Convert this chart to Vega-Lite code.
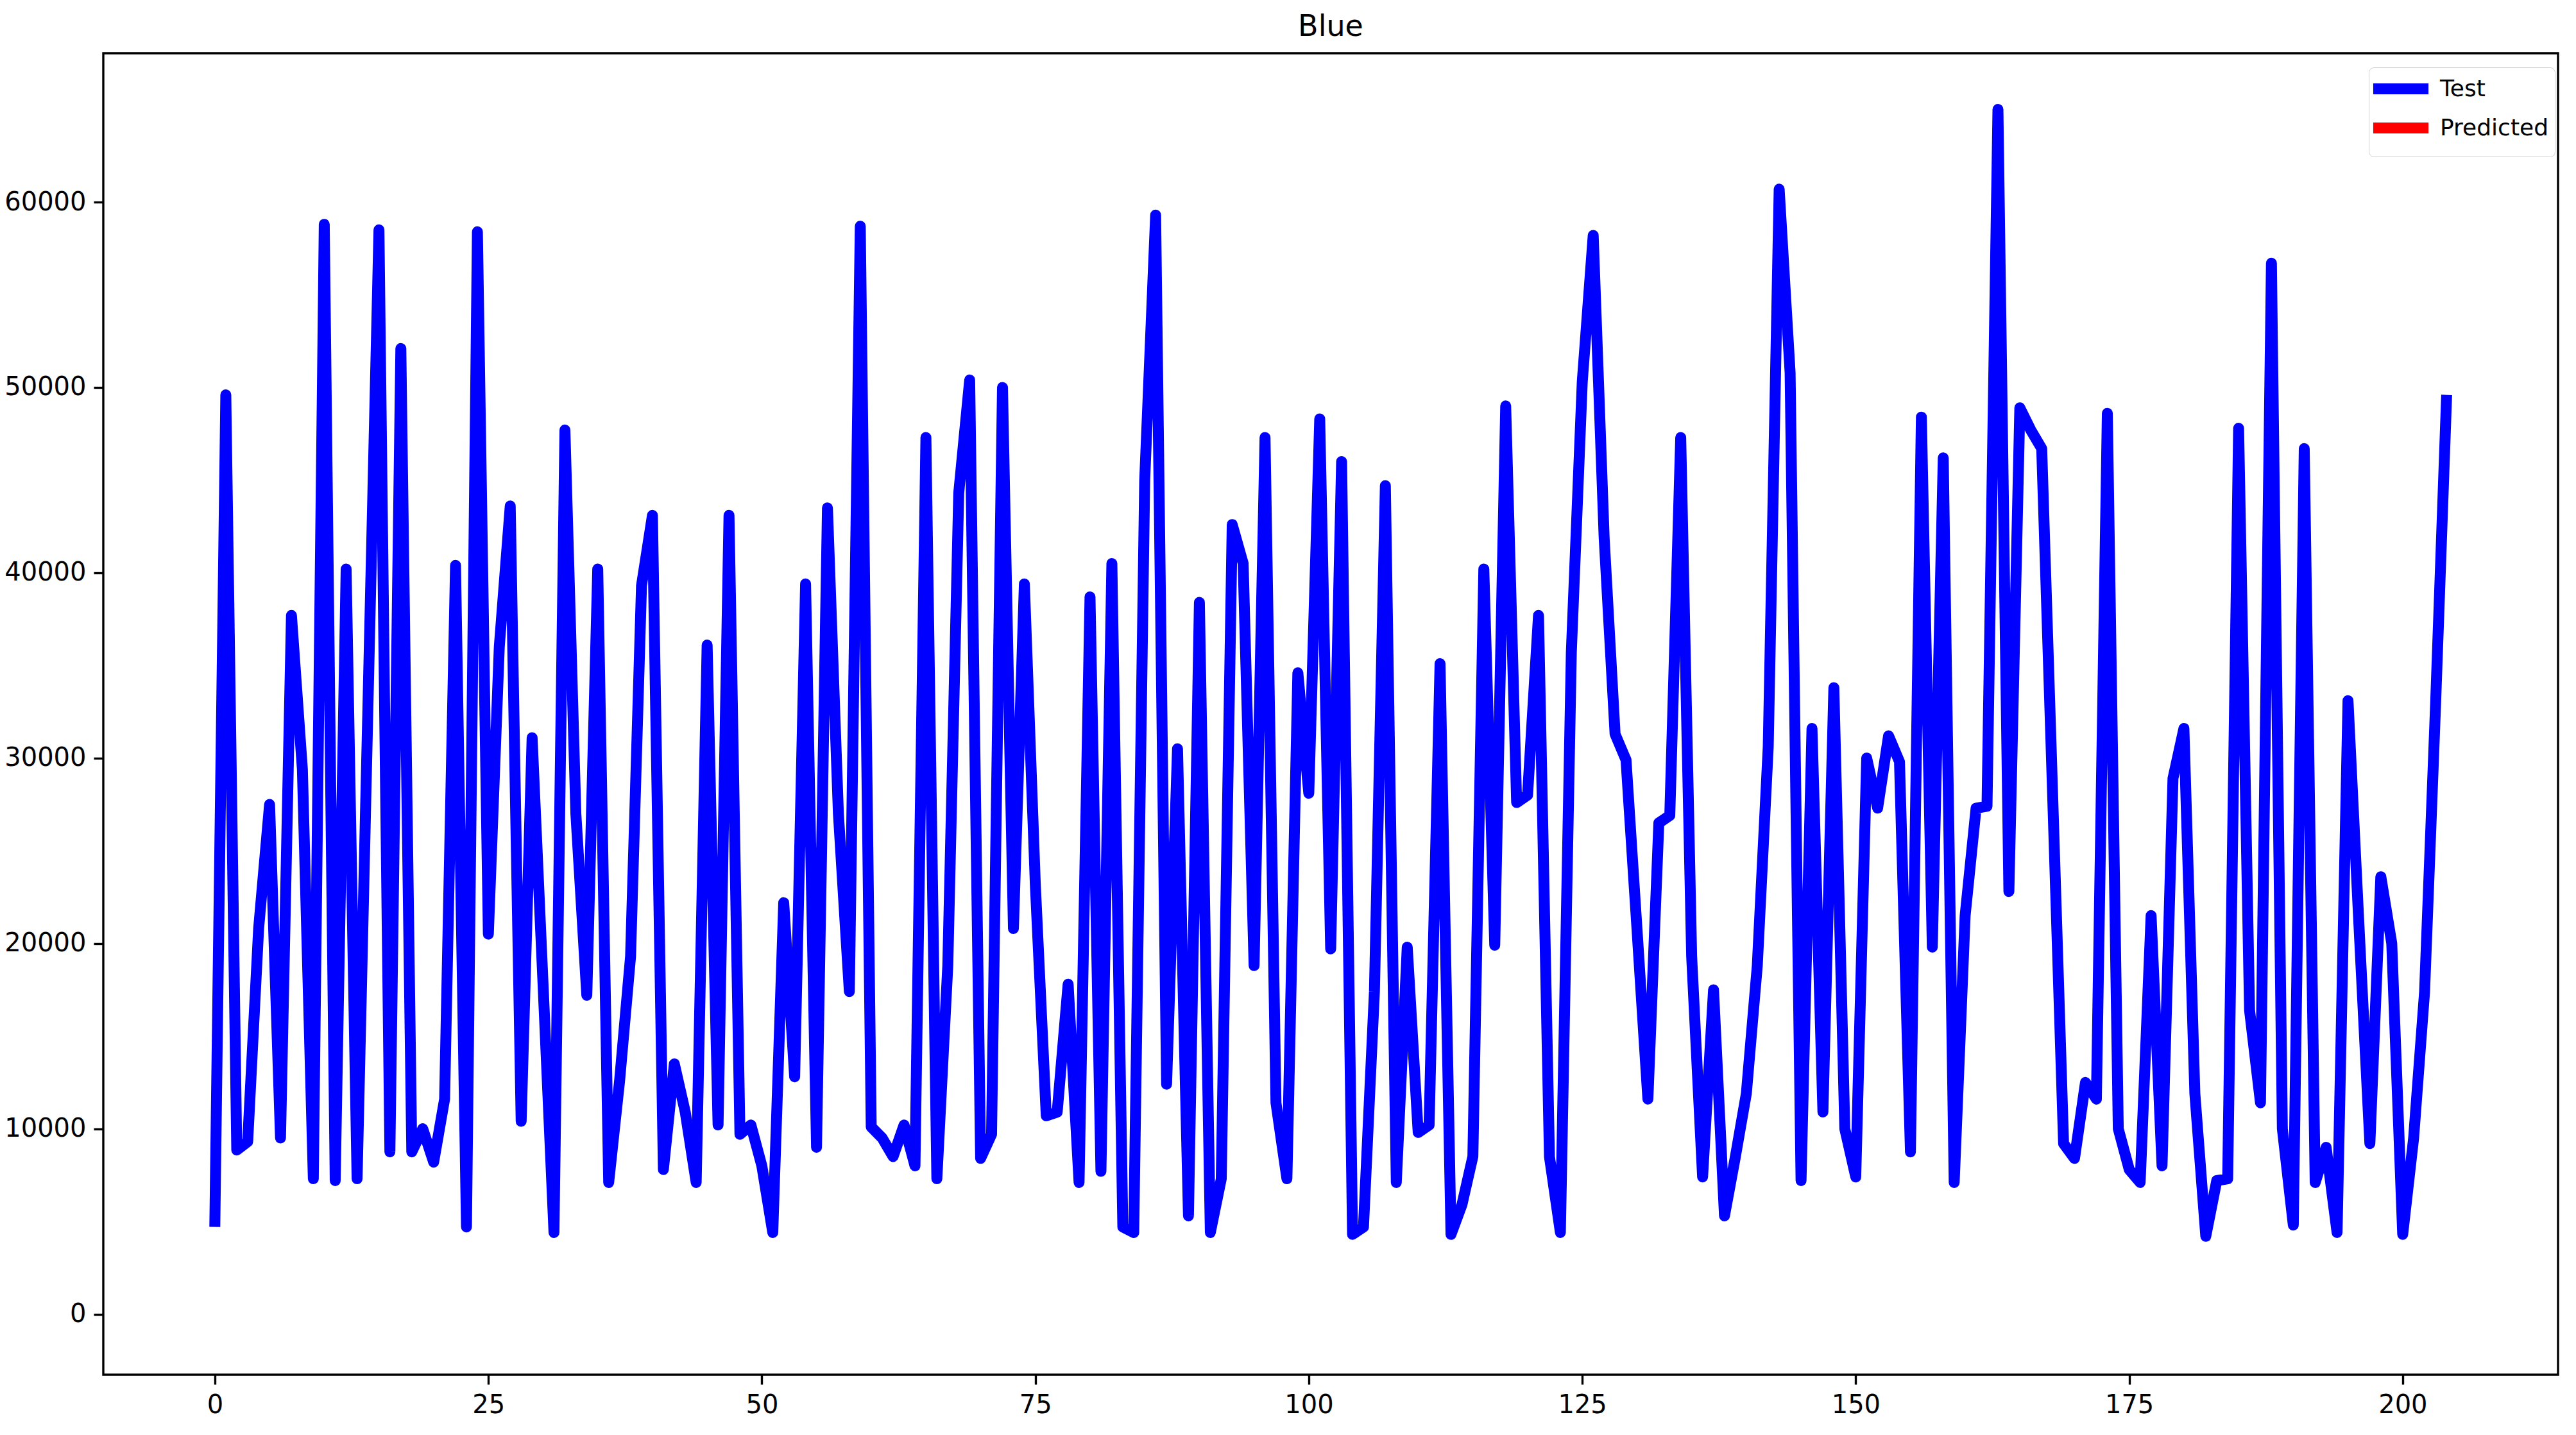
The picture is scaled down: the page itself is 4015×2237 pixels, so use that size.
{
  "$schema": "https://vega.github.io/schema/vega-lite/v6.json",
  "autosize": "none",
  "width": 3826,
  "height": 2060,
  "padding": {"left": 161, "top": 83, "right": 28, "bottom": 94},
  "background": "white",
  "title": {"text": "Blue", "fontSize": 46, "font": "DejaVu Sans", "fontWeight": "normal", "color": "black", "offset": 17, "anchor": "middle"},
  "config": {
    "view": {"stroke": "black", "strokeWidth": 3.4},
    "font": "DejaVu Sans"
  },
  "data": {"values": [
    {"i":0,"v":5000},{"i":1,"v":49600},{"i":2,"v":8850},{"i":3,"v":9300},{"i":4,"v":20800},
    {"i":5,"v":27500},{"i":6,"v":9500},{"i":7,"v":37700},{"i":8,"v":29400},{"i":9,"v":7300},
    {"i":10,"v":58800},{"i":11,"v":7200},{"i":12,"v":40200},{"i":13,"v":7300},{"i":14,"v":33000},
    {"i":15,"v":58500},{"i":16,"v":8750},{"i":17,"v":52100},{"i":18,"v":8750},{"i":19,"v":10000},
    {"i":20,"v":8200},{"i":21,"v":11600},{"i":22,"v":40400},{"i":23,"v":4700},{"i":24,"v":58400},
    {"i":25,"v":20500},{"i":26,"v":36000},{"i":27,"v":43600},{"i":28,"v":10400},{"i":29,"v":31100},
    {"i":30,"v":17800},{"i":31,"v":4400},{"i":32,"v":47700},{"i":33,"v":27000},{"i":34,"v":17200},
    {"i":35,"v":40200},{"i":36,"v":7100},{"i":37,"v":12600},{"i":38,"v":19300},{"i":39,"v":39300},
    {"i":40,"v":43100},{"i":41,"v":7800},{"i":42,"v":13500},{"i":43,"v":10900},{"i":44,"v":7100},
    {"i":45,"v":36100},{"i":46,"v":10200},{"i":47,"v":43100},{"i":48,"v":9700},{"i":49,"v":10200},
    {"i":50,"v":8000},{"i":51,"v":4400},{"i":52,"v":22200},{"i":53,"v":12800},{"i":54,"v":39400},
    {"i":55,"v":9000},{"i":56,"v":43500},{"i":57,"v":27000},{"i":58,"v":17400},{"i":59,"v":58700},
    {"i":60,"v":10100},{"i":61,"v":9500},{"i":62,"v":8500},{"i":63,"v":10200},{"i":64,"v":8000},
    {"i":65,"v":47300},{"i":66,"v":7300},{"i":67,"v":18800},{"i":68,"v":44300},{"i":69,"v":50400},
    {"i":70,"v":8400},{"i":71,"v":9700},{"i":72,"v":50000},{"i":73,"v":20800},{"i":74,"v":39400},
    {"i":75,"v":23200},{"i":76,"v":10700},{"i":77,"v":10900},{"i":78,"v":17800},{"i":79,"v":7100},
    {"i":80,"v":38700},{"i":81,"v":7700},{"i":82,"v":40500},{"i":83,"v":4700},{"i":84,"v":4400},
    {"i":85,"v":45000},{"i":86,"v":59300},{"i":87,"v":12400},{"i":88,"v":30500},{"i":89,"v":5300},
    {"i":90,"v":38400},{"i":91,"v":4400},{"i":92,"v":7300},{"i":93,"v":42600},{"i":94,"v":40500},
    {"i":95,"v":18800},{"i":96,"v":47300},{"i":97,"v":11400},{"i":98,"v":7300},{"i":99,"v":34600},
    {"i":100,"v":28100},{"i":101,"v":48300},{"i":102,"v":19700},{"i":103,"v":46000},{"i":104,"v":4300},
    {"i":105,"v":4700},{"i":106,"v":17400},{"i":107,"v":44700},{"i":108,"v":7100},{"i":109,"v":19800},
    {"i":110,"v":9800},{"i":111,"v":10200},{"i":112,"v":35100},{"i":113,"v":4300},{"i":114,"v":5900},
    {"i":115,"v":8500},{"i":116,"v":40200},{"i":117,"v":19900},{"i":118,"v":49000},{"i":119,"v":27600},
    {"i":120,"v":28000},{"i":121,"v":37700},{"i":122,"v":8500},{"i":123,"v":4400},{"i":124,"v":35700},
    {"i":125,"v":50300},{"i":126,"v":58200},{"i":127,"v":41900},{"i":128,"v":31300},{"i":129,"v":29900},
    {"i":130,"v":20800},{"i":131,"v":11600},{"i":132,"v":26500},{"i":133,"v":26900},{"i":134,"v":47300},
    {"i":135,"v":19300},{"i":136,"v":7400},{"i":137,"v":17500},{"i":138,"v":5300},{"i":139,"v":8500},
    {"i":140,"v":11900},{"i":141,"v":18800},{"i":142,"v":30600},{"i":143,"v":60700},{"i":144,"v":50800},
    {"i":145,"v":7200},{"i":146,"v":31600},{"i":147,"v":10900},{"i":148,"v":33800},{"i":149,"v":10000},
    {"i":150,"v":7400},{"i":151,"v":30000},{"i":152,"v":27300},{"i":153,"v":31200},{"i":154,"v":29800},
    {"i":155,"v":8750},{"i":156,"v":48400},{"i":157,"v":19800},{"i":158,"v":46200},{"i":159,"v":7100},
    {"i":160,"v":21500},{"i":161,"v":27300},{"i":162,"v":27400},{"i":163,"v":65000},{"i":164,"v":22800},
    {"i":165,"v":48900},{"i":166,"v":47700},{"i":167,"v":46700},{"i":168,"v":28000},{"i":169,"v":9200},
    {"i":170,"v":8400},{"i":171,"v":12500},{"i":172,"v":11600},{"i":173,"v":48600},{"i":174,"v":10000},
    {"i":175,"v":7800},{"i":176,"v":7100},{"i":177,"v":21500},{"i":178,"v":8000},{"i":179,"v":28900},
    {"i":180,"v":31600},{"i":181,"v":11900},{"i":182,"v":4200},{"i":183,"v":7200},{"i":184,"v":7300},
    {"i":185,"v":47800},{"i":186,"v":16400},{"i":187,"v":11400},{"i":188,"v":56700},{"i":189,"v":10000},
    {"i":190,"v":4800},{"i":191,"v":46700},{"i":192,"v":7100},{"i":193,"v":9000},{"i":194,"v":4400},
    {"i":195,"v":33100},{"i":196,"v":21000},{"i":197,"v":9200},{"i":198,"v":23600},{"i":199,"v":20000},
    {"i":200,"v":4300},{"i":201,"v":9500},{"i":202,"v":17400},{"i":203,"v":32800},{"i":204,"v":49300}
  ]},
  "mark": {"type": "line", "strokeWidth": 17, "strokeCap": "square", "strokeJoin": "round", "clip": true},
  "encoding": {
    "x": {"field": "i", "type": "quantitative",
      "scale": {"domain": [-10.2, 214.2], "nice": false, "zero": false},
      "axis": {"values": [0,25,50,75,100,125,150,175,200], "title": null, "grid": false, "domain": false,
        "labelFontSize": 40, "labelFont": "DejaVu Sans", "labelColor": "black", "tickSize": 15, "tickWidth": 3.4,
        "tickColor": "black", "labelPadding": 12, "labelFlush": false}},
    "y": {"field": "v", "type": "quantitative",
      "scale": {"domain": [-3270, 68030], "nice": false, "zero": false},
      "axis": {"values": [0,10000,20000,30000,40000,50000,60000], "format": "d", "title": null, "grid": false, "domain": false,
        "labelFontSize": 40, "labelFont": "DejaVu Sans", "labelColor": "black", "tickSize": 15, "tickWidth": 3.4,
        "tickColor": "black", "labelPadding": 12, "labelFlush": false}},
    "color": {"datum": "Test", "type": "nominal",
      "scale": {"domain": ["Test", "Predicted"], "range": ["#0000ff", "#ff0000"]},
      "legend": {"title": null, "orient": "none", "legendX": 3531, "legendY": 22,
        "symbolType": "M-1.77,0H3.97", "symbolStrokeWidth": 17, "symbolSize": 900,
        "labelFontSize": 36, "labelFont": "DejaVu Sans", "labelColor": "black", "labelOffset": 54, "labelLimit": 500,
        "fillColor": "rgba(255,255,255,0.8)", "strokeColor": "#d0d0d0", "cornerRadius": 8,
        "padding": 10, "rowPadding": -8}}
  }
}
